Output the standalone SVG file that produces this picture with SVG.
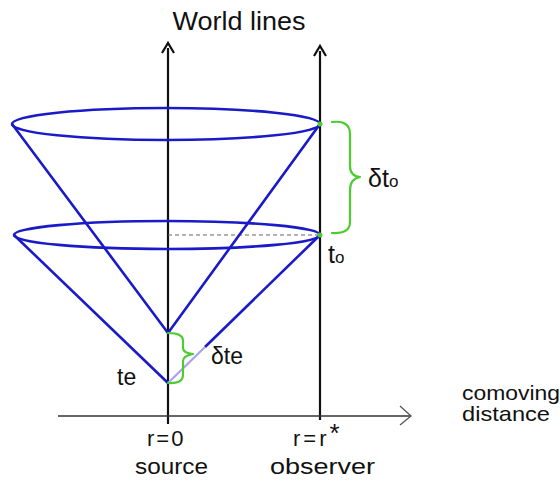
<svg xmlns="http://www.w3.org/2000/svg" width="560" height="481" viewBox="0 0 560 481">
<style>
.t{font-family:"Liberation Sans","DejaVu Sans",sans-serif;fill:#111;}
.cone{fill:none;stroke:#1a1ac8;stroke-width:2.6;stroke-linejoin:round;}
.wl{stroke:#111;stroke-width:2.2;fill:none;}
.br{fill:none;stroke:#4ccc30;stroke-width:2.2;stroke-linecap:round;stroke-linejoin:round;}
</style>
<rect width="560" height="481" fill="#fff"/>
<g id="title"><text class="t" x="239" y="30" font-size="26" text-anchor="middle" textLength="133" lengthAdjust="spacingAndGlyphs">World lines</text></g>
<g id="connectors">
<line class="wl" x1="168" y1="424" x2="168" y2="48"/>
<path d="M162,53 L168,43 L174,53" class="wl" stroke-width="2.6"/>
<line class="wl" x1="320" y1="420" x2="320" y2="51"/>
<path d="M314,56 L320,46 L326,56" class="wl" stroke-width="2.6"/>
<line x1="58" y1="416" x2="410" y2="416" stroke="#333" stroke-width="1.3"/>
<path d="M400,406 L411,416 L400,425" fill="none" stroke="#555" stroke-width="1.3"/>
<line x1="168" y1="235" x2="320" y2="235" stroke="#666" stroke-width="1" stroke-dasharray="4,3"/>
</g>
<g id="upper-cone">
<ellipse class="cone" cx="166" cy="124" rx="154" ry="16"/>
<path class="cone" d="M12,124 L168,333 L320,124"/>
</g>
<g id="lower-cone">
<ellipse class="cone" cx="167" cy="235" rx="153" ry="14"/>
<path class="cone" d="M14,235 L168,383"/>
<path class="cone" d="M320,235 L205,347"/>
<path d="M205,347 L168,383" fill="none" stroke="#a9a2ee" stroke-width="2.2"/>
</g>
<g id="delta-to">
<path class="br" d="M332,122 Q350,120 350,134 L350,166 Q350,176 360,177 Q350,179 350,190 L350,222 Q350,234 332,233"/>
<circle cx="320" cy="124" r="2.5" fill="#4ccc30"/>
<circle cx="320" cy="235" r="2.5" fill="#4ccc30"/>
<text class="t" x="368" y="187" font-size="25">δt<tspan font-size="17">o</tspan></text>
</g>
<g id="to-label"><text class="t" x="328" y="263" font-size="25">t<tspan font-size="17">o</tspan></text></g>
<g id="delta-te">
<path class="br" d="M168,333 Q184,333 183,342 L183,348 Q183,353 193,354 Q183,356 183,361 L183,375 Q183,384 168,383"/>
<text class="t" x="211" y="364" font-size="23">δte</text>
</g>
<g id="te-label"><text class="t" x="117" y="385" font-size="23">te</text></g>
<g id="axis-label">
<text class="t" x="462" y="400" font-size="21" textLength="98" lengthAdjust="spacingAndGlyphs">comoving</text>
<text class="t" x="462" y="421" font-size="21" textLength="88" lengthAdjust="spacingAndGlyphs">distance</text>
</g>
<g id="source">
<text class="t" x="147" y="446" font-size="22" letter-spacing="2">r=0</text>
<text class="t" x="135" y="474" font-size="22" textLength="73" lengthAdjust="spacingAndGlyphs">source</text>
</g>
<g id="observer">
<text class="t" x="293" y="446" font-size="22" letter-spacing="3">r=r<tspan font-size="26" dy="-4">*</tspan></text>
<text class="t" x="270" y="474" font-size="22" textLength="105" lengthAdjust="spacingAndGlyphs">observer</text>
</g>
</svg>
